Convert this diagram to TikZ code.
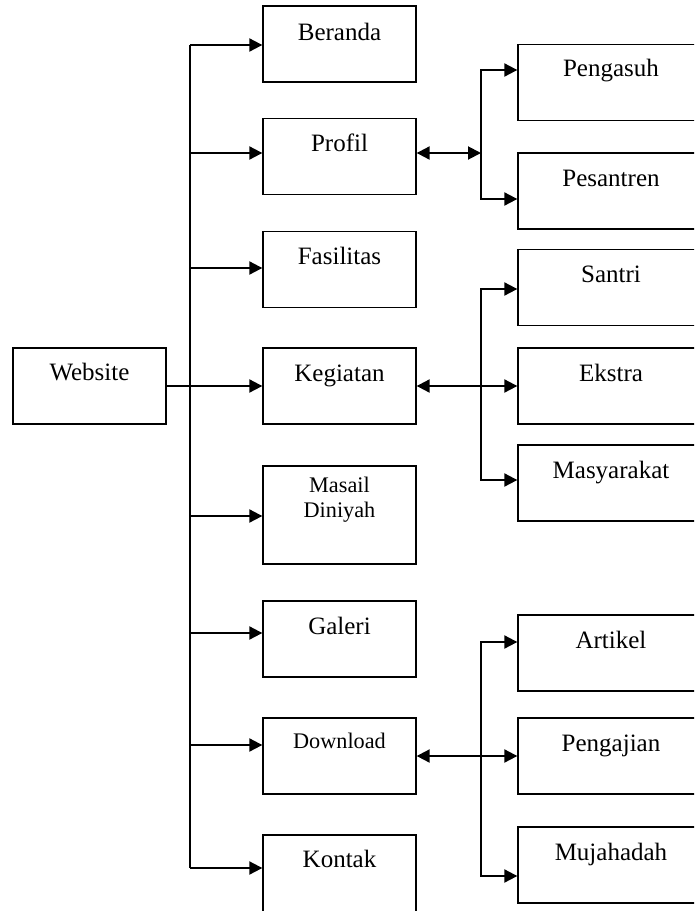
\documentclass[tikz,border=0pt]{standalone}
\usepackage{fontspec}
\setmainfont{Liberation Serif}
\usetikzlibrary{arrows.meta}
\begin{document}
\begin{tikzpicture}[x=0.75pt,y=-0.75pt,
  bx/.style={draw, line width=1pt, inner sep=0pt, minimum width=114.75pt, minimum height=57pt},
  rbx/.style={draw, line width=1pt, inner sep=0pt, minimum width=139.5pt, minimum height=57pt},
  lab/.style={anchor=base, yshift=-25.5pt, inner sep=0pt, font=\fontsize{18.75}{22.5}\selectfont},
  labs/.style={anchor=base, yshift=-23.25pt, inner sep=0pt, font=\fontsize{16.7}{18.75}\selectfont},
  conn/.style={line width=1.5pt},
  arr/.style={conn, -{Triangle[length=9.75pt,width=9.75pt]}},
  darr/.style={conn, {Triangle[length=9.75pt,width=9.75pt]}-{Triangle[length=9.75pt,width=9.75pt]}}]
\clip (0,0) rectangle (694,911);
\fill[white] (0,0) rectangle (694,911);
% left
\node[bx, minimum width=114.75pt, label={[lab, yshift=0.75pt]north:Website}] (web) at (89.5,386) {};
% middle column
\node[bx, label={[lab, yshift=-0.75pt]north:Beranda}] (ber) at (339.5,44) {};
\node[bx, label={[lab]north:Profil}] (pro) at (339.5,156.5) {};
\node[bx, label={[lab]north:Fasilitas}] (fas) at (339.5,269.5) {};
\node[bx, label={[lab]north:Kegiatan}] (keg) at (339.5,386) {};
\node[bx, minimum height=73.5pt, label={[labs, yshift=3pt]north:{\tabcolsep=0pt\begin{tabular}[t]{c}Masail\\Diniyah\end{tabular}}}] (mas) at (339.5,515) {};
\node[bx, label={[lab]north:Galeri}] (gal) at (339.5,639) {};
\node[bx, label={[labs]north:Download}] (dow) at (339.5,756) {};
\node[bx, minimum height=60pt, label={[lab, yshift=1pt]north:Kontak}] (kon) at (339.5,875) {};
% right column
\node[rbx, label={[lab, yshift=0.75pt]north:Pengasuh}] (pen) at (611,82.5) {};
\node[rbx, label={[lab]north:Pesantren}] (pes) at (611,191) {};
\node[rbx, label={[lab]north:Santri}] (san) at (611,287.5) {};
\node[rbx, label={[lab]north:Ekstra}] (eks) at (611,386) {};
\node[rbx, label={[lab]north:Masyarakat}] (msy) at (611,483) {};
\node[rbx, label={[lab]north:Artikel}] (art) at (611,653) {};
\node[rbx, label={[lab]north:Pengajian}] (pgj) at (611,756) {};
\node[rbx, label={[lab]north:Mujahadah}] (muj) at (611,865) {};
% main bus
\coordinate (t1) at (190,45);
\coordinate (t2) at (190,153);
\coordinate (t3) at (190,268);
\coordinate (t5) at (190,516);
\coordinate (t6) at (190,633);
\coordinate (t7) at (190,745);
\coordinate (t8) at (190,868);
\draw[conn] (t1) -- (t8);
\draw[arr] (t1) -- (ber.west |- t1);
\draw[arr] (t2) -- (pro.west |- t2);
\draw[arr] (t3) -- (fas.west |- t3);
\draw[arr] (web) -- (keg);
\draw[arr] (t5) -- (mas.west |- t5);
\draw[arr] (t6) -- (gal.west |- t6);
\draw[arr] (t7) -- (dow.west |- t7);
\draw[arr] (t8) -- (kon.west |- t8);
% profil sub
\coordinate (pj) at (481,153);
\coordinate (p1) at (481,70);
\coordinate (p2) at (481,199);
\draw[darr] (pro.east |- pj) -- (pj);
\draw[darr] (pen.west |- p1) -- (p1) -- (p2) -- (pes.west |- p2);
% kegiatan sub
\coordinate (k1) at (481,289);
\coordinate (k2) at (481,480);
\draw[darr] (keg) -- (eks);
\draw[darr] (san.west |- k1) -- (k1) -- (k2) -- (msy.west |- k2);
% download sub
\coordinate (d1) at (481,642);
\coordinate (d2) at (481,876);
\draw[darr] (dow) -- (pgj);
\draw[darr] (art.west |- d1) -- (d1) -- (d2) -- (muj.west |- d2);
\end{tikzpicture}
\end{document}
